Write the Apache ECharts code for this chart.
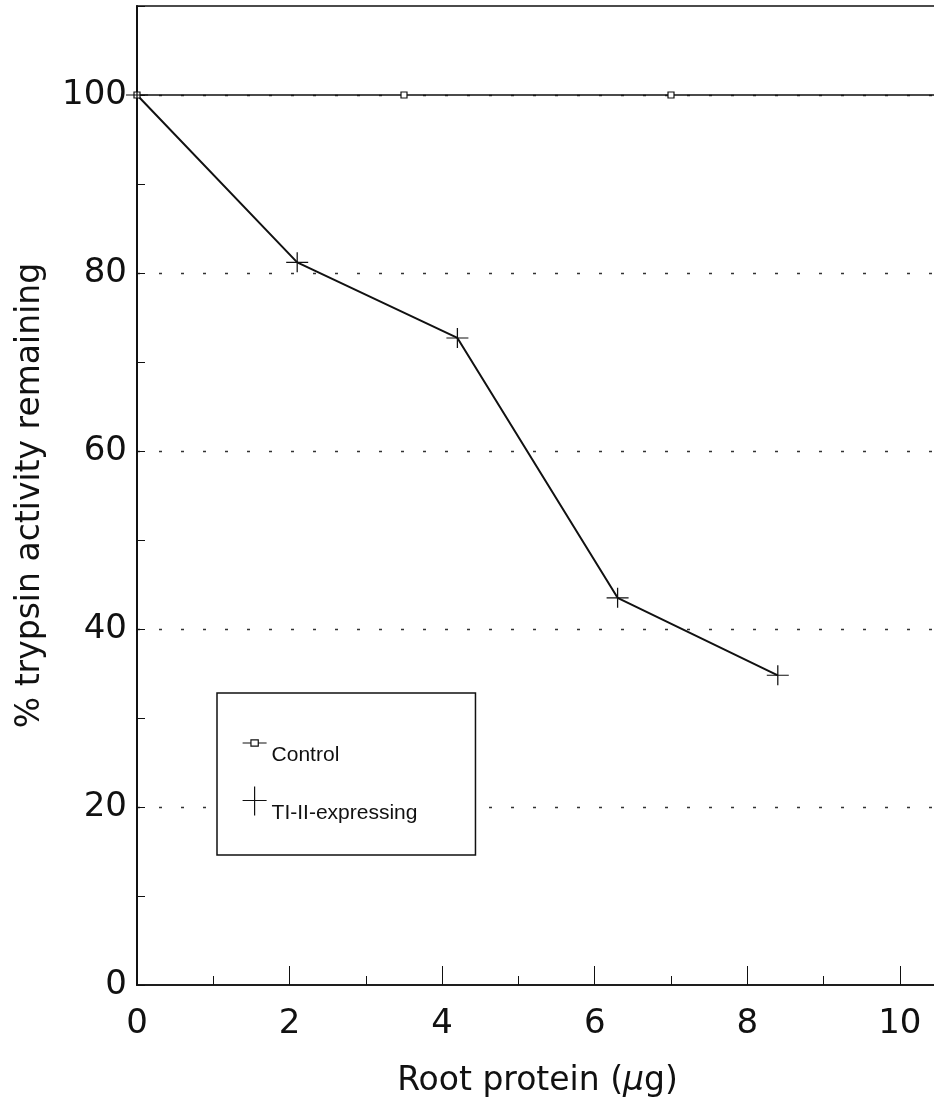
<!DOCTYPE html>
<html><head><meta charset="utf-8">
<script src="https://cdn.jsdelivr.net/npm/echarts@6/dist/echarts.min.js"></script>
<style>html,body{margin:0;padding:0;background:#fff}#c{width:934px;height:1105px}</style>
</head><body><div id="c"></div>
<script>
// Data
const controlX = [0, 3.5, 7, 10.5];
const controlY = [100, 100, 100, 100];
const tiX = [0, 2.1, 4.2, 6.3, 8.4];
const tiY = [100, 81.2, 72.7, 43.5, 34.8];
const seriesNames = ['Control', 'TI-II-expressing'];
const xTitle = 'Root protein ({i|μ}g)';
const yTitle = '% trypsin activity remaining';

const INK = '#111';
const FONT = 'DejaVu Sans';
const plusPath = 'path://M0,10 L22,10 M11,0 L11,20';
const legendPlus = 'path://M0,14 L24,14 M12,0 L12,29';
const legendCtrl = 'path://M0,4 L8,4 M15,4 L23,4 M8,1 L15,1 L15,7 L8,7 Z';

const chart = echarts.init(document.getElementById('c'), null, {renderer: 'canvas'});
chart.setOption({
  animation: false,
  backgroundColor: '#fff',
  grid: {left: 137, top: 6, right: -4, bottom: 120, containLabel: false, outerBoundsMode: 'none',
         show: true, borderColor: INK, borderWidth: 1.5, backgroundColor: 'transparent'},
  xAxis: [{
    type: 'value', min: 0, max: 10.5, interval: 2,
    name: xTitle, nameLocation: 'middle', nameGap: 80,
    nameTextStyle: {fontFamily: FONT, fontSize: 33, color: INK, rich: {i: {fontFamily: FONT, fontSize: 33, fontStyle: 'italic', color: INK}}},
    axisLine: {show: true, lineStyle: {color: INK, width: 1.5}},
    axisTick: {show: true, inside: true, length: 19, lineStyle: {color: INK, width: 1}},
    axisLabel: {fontFamily: FONT, fontSize: 34, color: INK, margin: 22, showMaxLabel: false},
    splitLine: {show: false}
  }, {
    type: 'value', min: 0, max: 10.5, interval: 1, position: 'bottom',
    axisLine: {show: false}, axisLabel: {show: false}, splitLine: {show: false},
    axisTick: {show: true, inside: true, length: 9, lineStyle: {color: INK, width: 1}}
  }],
  yAxis: [{
    type: 'value', min: 0, max: 110, interval: 20,
    name: yTitle, nameLocation: 'middle', nameGap: 90, nameRotate: 90,
    nameTextStyle: {fontFamily: FONT, fontSize: 33, color: INK},
    axisLine: {show: true, lineStyle: {color: INK, width: 2}},
    axisTick: {show: true, inside: true, length: 8, lineStyle: {color: INK, width: 1}},
    axisLabel: {fontFamily: FONT, fontSize: 34, color: INK, margin: 10, showMaxLabel: false},
    splitLine: {show: true, showMinLine: false, showMaxLine: false, lineStyle: {color: '#333', width: 1.3, type: [3, 19]}}
  }, {
    type: 'value', min: 0, max: 110, interval: 10, position: 'left',
    axisLine: {show: false}, axisLabel: {show: false}, splitLine: {show: false},
    axisTick: {show: true, inside: true, length: 8, lineStyle: {color: INK, width: 1}}
  }],
  legend: {
    orient: 'vertical', left: 217, top: 693,
    padding: [26, 58, 30, 25],
    backgroundColor: '#fff',
    borderColor: INK, borderWidth: 1.5,
    itemWidth: 24, itemHeight: 29, itemGap: 10,
    formatter: name => '\n' + name,
    textStyle: {fontFamily: 'Liberation Sans', fontSize: 21, lineHeight: 24, color: INK},
    data: [
      {name: seriesNames[0], icon: legendCtrl, itemStyle: {color: '#fff', borderColor: INK, borderWidth: 1.2}},
      {name: seriesNames[1], icon: legendPlus, itemStyle: {color: 'transparent', borderColor: INK, borderWidth: 1.2}}
    ]
  },
  series: [{
    name: seriesNames[0], type: 'line',
    data: controlX.map((x, i) => [x, controlY[i]]),
    symbol: 'rect', symbolSize: 6,
    itemStyle: {color: '#fff', borderColor: INK, borderWidth: 1.2},
    lineStyle: {color: INK, width: 1.5}
  }, {
    name: seriesNames[1], type: 'line',
    data: tiX.map((x, i) => [x, tiY[i]]),
    symbol: plusPath, symbolSize: [22, 20],
    itemStyle: {color: 'transparent', borderColor: INK, borderWidth: 1.2},
    lineStyle: {color: INK, width: 2}
  }]
});
</script>
</body></html>
